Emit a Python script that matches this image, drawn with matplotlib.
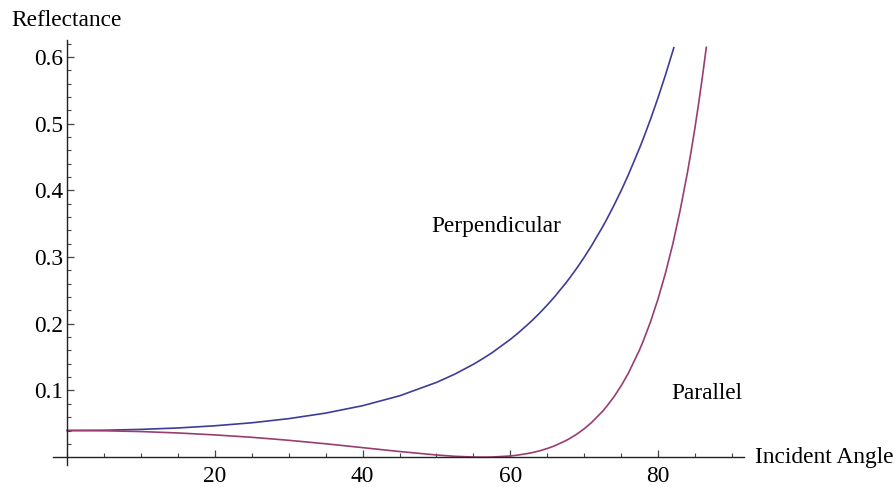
import matplotlib
matplotlib.use("Agg")
import matplotlib.pyplot as plt
from matplotlib.ticker import MultipleLocator, FixedLocator

# Valores (ângulo de incidência em graus, refletância)
angulos_perp = [0, 5, 10, 15, 20, 25, 30, 35, 40, 45, 50, 52.5, 55, 56.3, 57.5,
                60, 61, 62.5, 63, 64, 65, 66, 67.5, 68, 69, 70, 71, 72.5, 73, 74,
                75, 76, 77.5, 78, 79, 80, 81, 82, 82.15]
refl_perp = [0.0400, 0.0404, 0.0417, 0.0438, 0.0471, 0.0516, 0.0578, 0.0661, 0.0772,
             0.0920, 0.1121, 0.1246, 0.1393, 0.1479, 0.1564, 0.1766, 0.1856, 0.2003,
             0.2054, 0.2164, 0.2281, 0.2405, 0.2609, 0.2681, 0.2833, 0.2996, 0.3170,
             0.3453, 0.3554, 0.3767, 0.3993, 0.4236, 0.4633, 0.4773, 0.5069, 0.5387,
             0.5725, 0.6085, 0.6140]

angulos_par = [0, 5, 10, 15, 20, 25, 30, 35, 40, 45, 50, 52.5, 55, 56.3, 57.5, 60,
               61, 62.5, 63, 64, 65, 66, 67.5, 68, 69, 70, 71, 72.5, 73, 74, 75, 76,
               77.5, 78, 79, 80, 81, 82, 83, 84, 84.5, 85, 85.5, 86, 86.55]
refl_par = [0.0400, 0.0396, 0.0384, 0.0363, 0.0334, 0.0298, 0.0253, 0.0201, 0.0143,
            0.0085, 0.0033, 0.0013, 0.0002, 0.0000, 0.0002, 0.0018, 0.0031, 0.0058,
            0.0069, 0.0096, 0.0130, 0.0170, 0.0247, 0.0277, 0.0345, 0.0425, 0.0519,
            0.0688, 0.0754, 0.0899, 0.1068, 0.1261, 0.1608, 0.1740, 0.2032, 0.2369,
            0.2753, 0.3192, 0.3697, 0.4273, 0.4591, 0.4931, 0.5298, 0.5688, 0.6145]

ticks_x = [20, 40, 60, 80]
ticks_y = [0.1, 0.2, 0.3, 0.4, 0.5, 0.6]

cor_perp = "#3d3d99"
cor_par = "#993d71"

plt.rcParams["font.family"] = ["Liberation Serif", "DejaVu Serif"]
plt.rcParams["font.size"] = 16.8

fig = plt.figure(figsize=(8.94, 4.87), dpi=100)
ax = fig.add_axes([0.0596, 0.0448, 0.7730, 0.8737])

ax.plot(angulos_perp, refl_perp, color=cor_perp, lw=1.2)
ax.plot(angulos_par, refl_par, color=cor_par, lw=1.2)

ax.set_xlim(-1.9, 91.7)
ax.set_ylim(-0.012, 0.626)

# eixos cruzando na origem, estilo Mathematica
ax.spines["left"].set_position(("data", 0))
ax.spines["bottom"].set_position(("data", 0))
ax.spines["right"].set_visible(False)
ax.spines["top"].set_visible(False)
for s in ("left", "bottom"):
    ax.spines[s].set_linewidth(1.0)
    ax.spines[s].set_color("#222222")

ax.xaxis.set_major_locator(FixedLocator(ticks_x))
ax.xaxis.set_minor_locator(MultipleLocator(5))
ax.yaxis.set_major_locator(FixedLocator(ticks_y))
ax.yaxis.set_minor_locator(FixedLocator([i * 0.02 for i in range(1, 32)]))
ax.set_xticklabels([str(t) for t in ticks_x])
ax.set_yticklabels([f"{t:.1f}" for t in ticks_y])

ax.tick_params(axis="both", which="major", direction="in", length=5, width=0.9,
               color="#444444")
ax.tick_params(axis="both", which="minor", direction="in", length=3, width=0.8,
               color="#444444")
ax.tick_params(axis="x", which="major", pad=6)
ax.tick_params(axis="y", which="major", pad=3)

ax.text(58.1, 0.3372, "Perpendicular", ha="center", va="baseline")
ax.text(86.6, 0.0867, "Parallel", ha="center", va="baseline")
ax.text(93.1, -0.0092, "Incident Angle", ha="left", va="baseline", clip_on=False)
fig.text(0.0131, 0.9472, "Reflectance", ha="left", va="baseline")

fig.savefig("out.png", dpi=100)
